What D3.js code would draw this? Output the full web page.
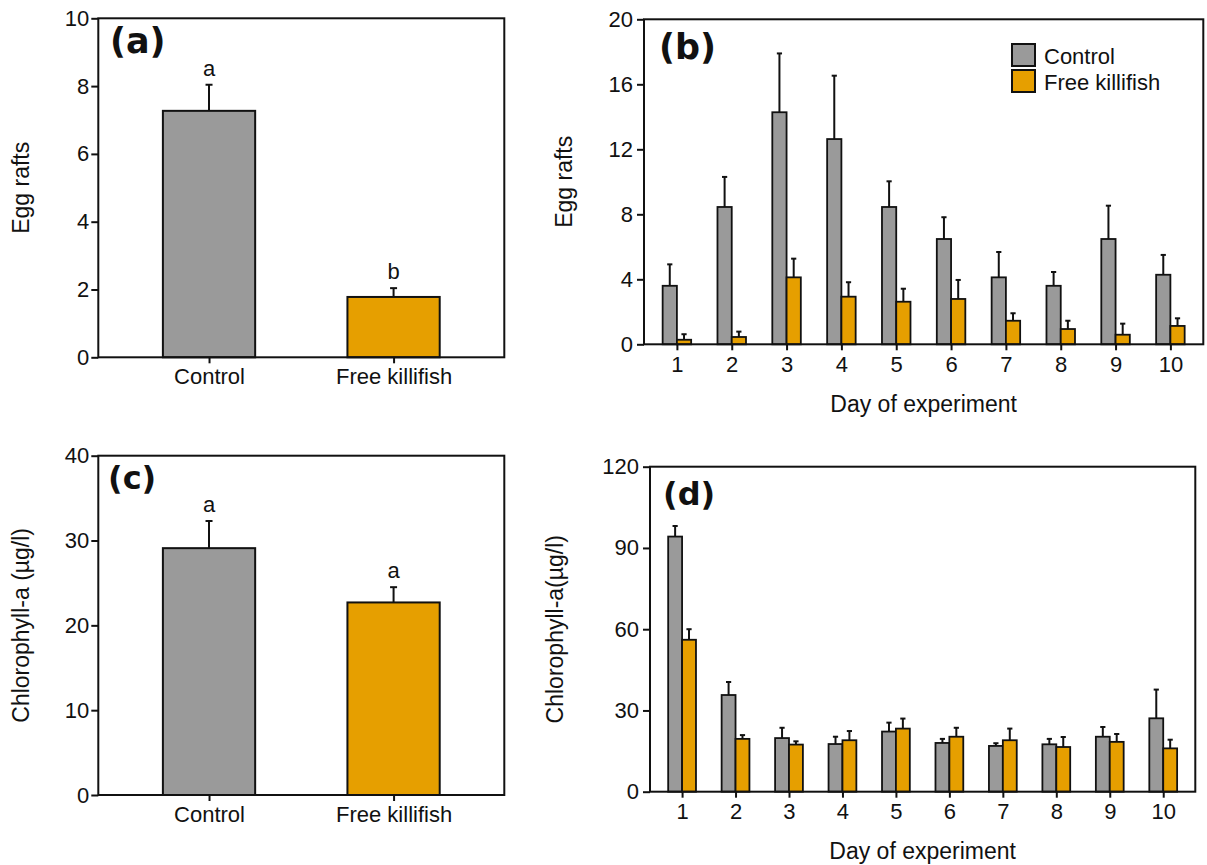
<!DOCTYPE html>
<html>
<head>
<meta charset="utf-8">
<script src="https://cdn.jsdelivr.net/npm/d3@7"></script>
<style>
  body { margin: 0; background: #fff; }
  text { font-family: "Liberation Sans", Arial, sans-serif; fill: #111; }
  .tag { font-family: "DejaVu Sans", Verdana, sans-serif; font-weight: bold; }
</style>
</head>
<body>
<div id="chartHolder"></div>
<script>
// ---- data ----
const groups = ["Control", "Free killifish"];
const eggMean = [7.27, 1.78];
const eggSE = [0.77, 0.26];
const eggLetters = ["a", "b"];
const chlMean = [29.1, 22.7];
const chlSE = [3.2, 1.8];
const chlLetters = ["a", "a"];

const days = [1, 2, 3, 4, 5, 6, 7, 8, 9, 10];
const eggCtrl = [3.6, 8.45, 14.28, 12.63, 8.45, 6.48, 4.12, 3.6, 6.48, 4.28];
const eggCtrlSE = [1.32, 1.85, 3.62, 3.9, 1.58, 1.34, 1.56, 0.85, 2.05, 1.22];
const eggFish = [0.28, 0.45, 4.12, 2.93, 2.62, 2.79, 1.45, 0.94, 0.59, 1.13];
const eggFishSE = [0.34, 0.33, 1.15, 0.89, 0.8, 1.17, 0.46, 0.51, 0.68, 0.47];
const chlCtrl = [94.2, 35.7, 19.8, 17.6, 22.2, 18.0, 16.9, 17.5, 20.3, 27.1];
const chlCtrlSE = [3.9, 4.8, 3.8, 2.7, 3.3, 1.5, 1.0, 2.0, 3.6, 10.6];
const chlFish = [56.1, 19.5, 17.4, 19.0, 23.3, 20.3, 19.0, 16.5, 18.4, 16.0];
const chlFishSE = [3.9, 1.4, 1.2, 3.4, 3.7, 3.3, 4.3, 3.7, 2.9, 3.2];

const colors = ["#9a9a9a", "#e69f00"];
const ink = "#111";

const svg = d3.select("#chartHolder").append("svg")
  .attr("width", 1207)
  .attr("height", 865);

function yAxisAndFrame(g, box, y, ticks, pad, title, titleX) {
  const ax = g.append("g")
    .attr("transform", "translate(" + box.l + ",0)")
    .call(d3.axisLeft(y).tickValues(ticks).tickSize(7).tickPadding(pad));
  ax.select(".domain").remove();
  ax.selectAll("line").attr("stroke", ink).attr("stroke-width", 2);
  ax.selectAll("text").style("font-size", "22px").attr("fill", ink);

  g.append("text")
    .attr("text-anchor", "middle")
    .attr("transform", "translate(" + titleX + "," + ((box.t + box.b) / 2) + ")rotate(-90)")
    .style("font-size", "23px")
    .text(title);
}

function xAxis(g, box, x, pad) {
  const ax = g.append("g")
    .attr("transform", "translate(0," + box.b + ")")
    .call(d3.axisBottom(x).tickSize(6).tickPadding(pad));
  ax.select(".domain").remove();
  ax.selectAll("line").attr("stroke", ink).attr("stroke-width", 2);
  ax.selectAll("text").style("font-size", "22px").attr("fill", ink);
}

function frame(g, box) {
  g.append("rect")
    .attr("x", box.l).attr("y", box.t)
    .attr("width", box.r - box.l).attr("height", box.b - box.t)
    .attr("fill", "none").attr("stroke", ink).attr("stroke-width", 2);
}

function tag(g, label, x, y, size) {
  g.append("text").attr("class", "tag")
    .attr("x", x).attr("y", y)
    .style("font-size", size + "px")
    .text(label);
}

// bars with an upward error bar and a small cap
function errBar(g, cx, y0, y1, cap) {
  g.append("line").attr("x1", cx).attr("x2", cx).attr("y1", y0).attr("y2", y1)
    .attr("stroke", ink).attr("stroke-width", 2);
  g.append("line").attr("x1", cx - cap).attr("x2", cx + cap).attr("y1", y1).attr("y2", y1)
    .attr("stroke", ink).attr("stroke-width", 2);
}

function groupPanel(box, means, ses, letters, yMax, yStep, title, label, tagPos) {
  const g = svg.append("g");
  const x = d3.scalePoint().domain(groups).range([box.l, box.r]).padding(0.6);
  const y = d3.scaleLinear().domain([0, yMax]).range([box.b, box.t]);
  const bw = x.step() * 0.5;

  groups.forEach((k, i) => {
    errBar(g, x(k), y(means[i]), y(means[i] + ses[i]), 3.5);
    g.append("rect")
      .attr("x", x(k) - bw / 2).attr("y", y(means[i]))
      .attr("width", bw).attr("height", y(0) - y(means[i]))
      .attr("fill", colors[i]).attr("stroke", ink).attr("stroke-width", 2);
    g.append("text")
      .attr("x", x(k)).attr("y", y(means[i] + ses[i]) - 9)
      .attr("text-anchor", "middle")
      .style("font-size", "22px")
      .text(letters[i]);
  });

  yAxisAndFrame(g, box, y, d3.range(0, yMax + 1, yStep), 2, title, 29);
  xAxis(g, box, x, 5);
  frame(g, box);
  tag(g, label, tagPos[0], tagPos[1], tagPos[2]);
}

function dailyPanel(box, ctrl, ctrlSE, fish, fishSE, yMax, yStep, title, titleX, label, tagPos, xTitleY) {
  const g = svg.append("g");
  const x = d3.scalePoint().domain(days).range([box.l, box.r]).padding(0.6);
  const y = d3.scaleLinear().domain([0, yMax]).range([box.b, box.t]);
  const bw = x.step() * 0.26;

  const series = [[ctrl, ctrlSE, -1], [fish, fishSE, 0]];
  series.forEach((s, si) => {
    days.forEach((d, i) => {
      const left = x(d) + s[2] * bw;
      errBar(g, left + bw / 2, y(s[0][i]), y(s[0][i] + s[1][i]), 2.6);
      g.append("rect")
        .attr("x", left).attr("y", y(s[0][i]))
        .attr("width", bw).attr("height", y(0) - y(s[0][i]))
        .attr("fill", colors[si]).attr("stroke", ink).attr("stroke-width", 1.8);
    });
  });

  yAxisAndFrame(g, box, y, d3.range(0, yMax + 1, yStep), 4, title, titleX);
  xAxis(g, box, x, 6);
  frame(g, box);
  tag(g, label, tagPos[0], tagPos[1], tagPos[2]);

  g.append("text")
    .attr("x", (box.l + box.r) / 2).attr("y", xTitleY)
    .attr("text-anchor", "middle")
    .style("font-size", "23px")
    .text("Day of experiment");
  return g;
}

groupPanel({l: 98.3, r: 504.3, t: 18.3, b: 357.3}, eggMean, eggSE, eggLetters,
  10, 2, "Egg rafts", "(a)", [110, 53, 35]);
groupPanel({l: 98.3, r: 504.3, t: 455.7, b: 795}, chlMean, chlSE, chlLetters,
  40, 10, "Chlorophyll-a (\u00b5g/l)", "(c)", [108, 489, 32]);

const gb = dailyPanel({l: 644, r: 1203.3, t: 19.3, b: 344.3}, eggCtrl, eggCtrlSE, eggFish, eggFishSE,
  20, 4, "Egg rafts", 572, "(b)", [659, 59, 35], 412);
dailyPanel({l: 650, r: 1195.3, t: 466.7, b: 791.7}, chlCtrl, chlCtrlSE, chlFish, chlFishSE,
  120, 30, "Chlorophyll-a(\u00b5g/l)", 563, "(d)", [663, 505, 32], 859);

// legend in panel (b)
const leg = gb.selectAll(".legend")
  .data(groups)
  .enter()
  .append("g")
  .attr("class", "legend")
  .attr("transform", (d, i) => "translate(1012," + (44 + i * 26) + ")");
leg.append("rect")
  .attr("width", 23).attr("height", 22)
  .attr("fill", (d, i) => colors[i])
  .attr("stroke", ink).attr("stroke-width", 2);
leg.append("text")
  .attr("x", 32).attr("y", 20)
  .style("font-size", "22px")
  .text((d) => d);
</script>
</body>
</html>
